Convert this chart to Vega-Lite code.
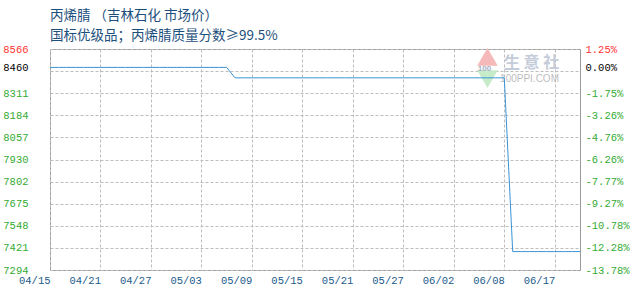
{
  "$schema": "https://vega.github.io/schema/vega-lite/v6.json",
  "width": 530,
  "height": 221,
  "autosize": {"type": "none"},
  "padding": {"left": 50, "top": 49, "right": 50, "bottom": 30},
  "background": "white",
  "config": {
    "view": {"stroke": "#999999", "strokeWidth": 1},
    "font": "Liberation Mono"
  },
  "title": {
    "text": ["丙烯腈 （吉林石化 市场价）", "国标优级品；丙烯腈质量分数≥99.5%"],
    "anchor": "start",
    "frame": "group",
    "font": "Noto Sans CJK SC",
    "fontSize": 13.5,
    "fontWeight": "normal",
    "color": "#1d4f7c",
    "lineHeight": 20,
    "offset": 2
  },
  "datasets": {
    "prices": [
      {"date": "04/15", "price": 8460}, {"date": "04/16", "price": 8460}, {"date": "04/17", "price": 8460},
      {"date": "04/18", "price": 8460}, {"date": "04/19", "price": 8460}, {"date": "04/20", "price": 8460},
      {"date": "04/21", "price": 8460}, {"date": "04/22", "price": 8460}, {"date": "04/23", "price": 8460},
      {"date": "04/24", "price": 8460}, {"date": "04/25", "price": 8460}, {"date": "04/26", "price": 8460},
      {"date": "04/27", "price": 8460}, {"date": "04/28", "price": 8460}, {"date": "04/29", "price": 8460},
      {"date": "04/30", "price": 8460}, {"date": "05/01", "price": 8460}, {"date": "05/02", "price": 8460},
      {"date": "05/03", "price": 8460}, {"date": "05/04", "price": 8460}, {"date": "05/05", "price": 8460},
      {"date": "05/06", "price": 8460}, {"date": "05/07", "price": 8400}, {"date": "05/08", "price": 8400},
      {"date": "05/09", "price": 8400}, {"date": "05/10", "price": 8400}, {"date": "05/11", "price": 8400},
      {"date": "05/12", "price": 8400}, {"date": "05/13", "price": 8400}, {"date": "05/14", "price": 8400},
      {"date": "05/15", "price": 8400}, {"date": "05/16", "price": 8400}, {"date": "05/17", "price": 8400},
      {"date": "05/18", "price": 8400}, {"date": "05/19", "price": 8400}, {"date": "05/20", "price": 8400},
      {"date": "05/21", "price": 8400}, {"date": "05/22", "price": 8400}, {"date": "05/23", "price": 8400},
      {"date": "05/24", "price": 8400}, {"date": "05/25", "price": 8400}, {"date": "05/26", "price": 8400},
      {"date": "05/27", "price": 8400}, {"date": "05/28", "price": 8400}, {"date": "05/29", "price": 8400},
      {"date": "05/30", "price": 8400}, {"date": "05/31", "price": 8400}, {"date": "06/01", "price": 8400},
      {"date": "06/02", "price": 8400}, {"date": "06/03", "price": 8400}, {"date": "06/04", "price": 8400},
      {"date": "06/05", "price": 8400}, {"date": "06/06", "price": 8400}, {"date": "06/07", "price": 8400},
      {"date": "06/08", "price": 8400}, {"date": "06/11", "price": 7400}, {"date": "06/12", "price": 7400},
      {"date": "06/13", "price": 7400}, {"date": "06/14", "price": 7400}, {"date": "06/15", "price": 7400},
      {"date": "06/17", "price": 7400}, {"date": "06/18", "price": 7400}, {"date": "06/19", "price": 7400},
      {"date": "06/20", "price": 7400}
    ],
    "brand": [
      {"item": "up", "date": "06/06", "price": 8520},
      {"item": "down", "date": "06/06", "price": 8393},
      {"item": "100", "date": "06/06", "price": 8452},
      {"item": "生  意  社", "date": "06/13", "price": 8484},
      {"item": "100PPI.COM", "date": "06/13", "price": 8391}
    ]
  },
  "layer": [
    {
      "data": {"name": "brand"},
      "transform": [{"filter": "datum.item == 'up'"}],
      "mark": {"type": "point", "shape": "triangle-up", "size": 420, "filled": true, "color": "#f5b9b9", "opacity": 1, "dx": -3},
      "encoding": {
        "x": {"field": "date", "type": "ordinal"},
        "y": {"field": "price", "type": "quantitative", "axis": null}
      }
    },
    {
      "data": {"name": "brand"},
      "transform": [{"filter": "datum.item == 'down'"}],
      "mark": {"type": "point", "shape": "triangle-down", "size": 420, "filled": true, "color": "#c6ebc9", "opacity": 1, "dx": -3},
      "encoding": {
        "x": {"field": "date", "type": "ordinal"},
        "y": {"field": "price", "type": "quantitative", "axis": null}
      }
    },
    {
      "data": {"name": "brand"},
      "transform": [{"filter": "datum.item == '100'"}],
      "mark": {"type": "text", "font": "Liberation Sans", "fontSize": 8, "fontWeight": "bold", "color": "#a3aec2", "dx": -3, "baseline": "middle"},
      "encoding": {
        "x": {"field": "date", "type": "ordinal"},
        "y": {"field": "price", "type": "quantitative", "axis": null},
        "text": {"field": "item"}
      }
    },
    {
      "data": {"name": "brand"},
      "transform": [{"filter": "datum.item == '生  意  社'"}],
      "mark": {"type": "text", "font": "Noto Sans CJK SC", "fontSize": 16, "fontWeight": "bold", "color": "#c4ccd9", "dx": 2, "baseline": "middle"},
      "encoding": {
        "x": {"field": "date", "type": "ordinal"},
        "y": {"field": "price", "type": "quantitative", "axis": null},
        "text": {"field": "item"}
      }
    },
    {
      "data": {"name": "brand"},
      "transform": [{"filter": "datum.item == '100PPI.COM'"}],
      "mark": {"type": "text", "font": "Liberation Sans", "fontSize": 10, "color": "#bdbdbd", "baseline": "middle"},
      "encoding": {
        "x": {"field": "date", "type": "ordinal"},
        "y": {"field": "price", "type": "quantitative", "axis": null},
        "text": {"field": "item"}
      }
    },
    {
      "mark": {"type": "rule", "color": "#999999", "strokeWidth": 1},
      "encoding": {
        "y": {
          "datum": 8460,
          "type": "quantitative",
          "scale": {"domain": [7294, 8566], "nice": false, "zero": false},
          "axis": {
            "orient": "right",
            "title": null,
            "values": [8566, 8460, 8311.6, 8184.4, 8057.2, 7930, 7802.8, 7675.6, 7548.4, 7421.2, 7294],
            "labelExpr": "(datum.value < 8460 ? '-' : '') + format(abs(datum.value / 8460 - 1) * 100, '.2f') + '%'",
            "ticks": false,
            "domain": false,
            "grid": false,
            "labelPadding": 5,
            "labelFont": "Liberation Mono",
            "labelFontSize": 10.5,
            "labelBaseline": "middle",
            "labelOverlap": false,
            "labelColor": {
              "condition": [
                {"test": "datum.value == 8566", "value": "#ff3333"},
                {"test": "datum.value == 8460", "value": "#000000"}
              ],
              "value": "#33aa33"
            }
          }
        }
      }
    },
    {
      "data": {"name": "prices"},
      "mark": {"type": "line", "color": "#3a94d4", "strokeWidth": 1},
      "encoding": {
        "x": {
          "field": "date",
          "type": "ordinal",
          "scale": {"type": "point", "padding": 0},
          "axis": {
            "title": null,
            "values": ["04/15", "04/21", "04/27", "05/03", "05/09", "05/15", "05/21", "05/27", "06/02", "06/08", "06/17"],
            "labelAngle": 0,
            "ticks": false,
            "domain": false,
            "grid": true,
            "gridDash": [3, 2],
            "gridColor": "#bdbdbd",
            "labelPadding": 10,
            "labelColor": "#1a5a8a",
            "labelFont": "Liberation Mono",
            "labelFontSize": 10.5,
            "labelOverlap": false
          }
        },
        "y": {
          "field": "price",
          "type": "quantitative",
          "scale": {"domain": [7294, 8566], "nice": false, "zero": false},
          "axis": {
            "orient": "left",
            "title": null,
            "values": [8566, 8460, 8438.8, 8311.6, 8184.4, 8057.2, 7930, 7802.8, 7675.6, 7548.4, 7421.2, 7294],
            "labelExpr": "datum.value == 8438.8 ? '' : '' + floor(datum.value)",
            "ticks": false,
            "domain": false,
            "grid": true,
            "gridDash": [3, 2],
            "gridColor": {
              "condition": {"test": "datum.value == 8460", "value": "transparent"},
              "value": "#bdbdbd"
            },
            "labelPadding": 22,
            "labelFont": "Liberation Mono",
            "labelFontSize": 10.5,
            "labelBaseline": "middle",
            "labelOverlap": false,
            "labelColor": {
              "condition": [
                {"test": "datum.value == 8566", "value": "#ff3333"},
                {"test": "datum.value == 8460", "value": "#000000"}
              ],
              "value": "#33aa33"
            }
          }
        }
      }
    }
  ],
  "resolve": {"axis": {"y": "independent"}}
}
